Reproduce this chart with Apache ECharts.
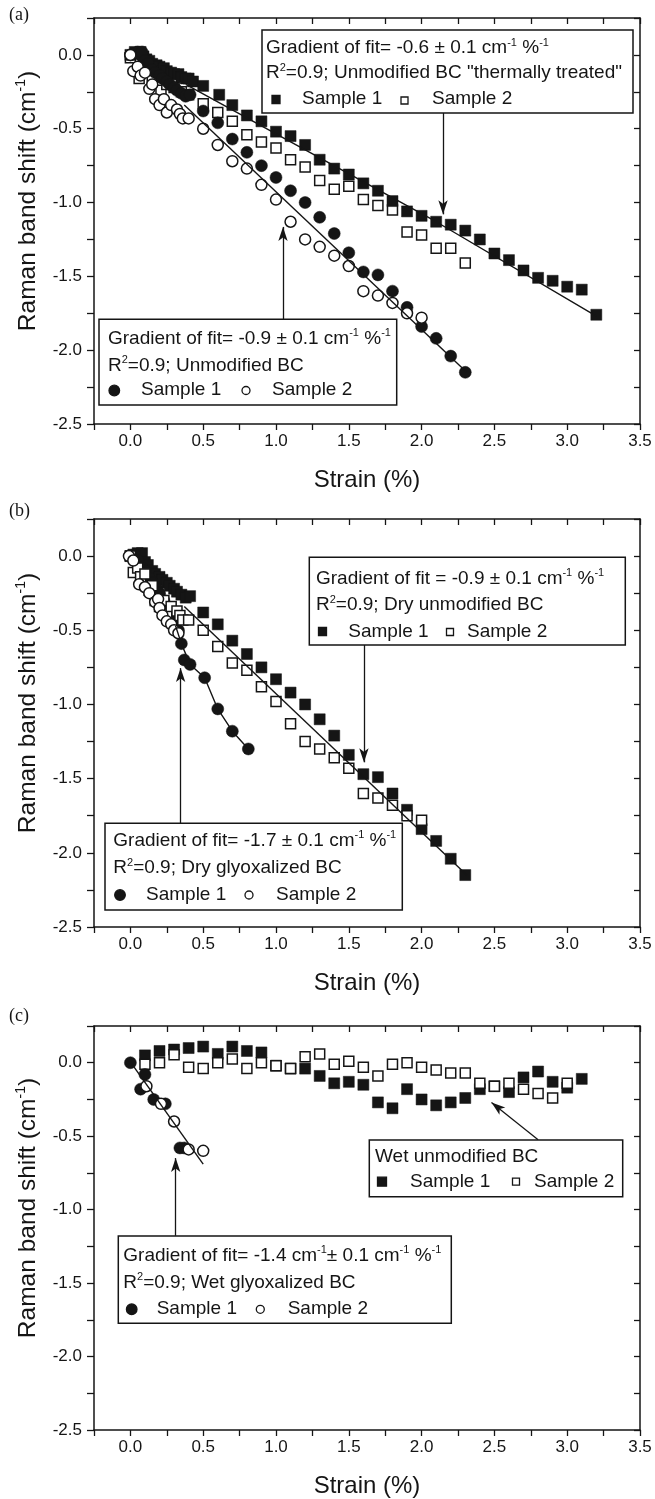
<!DOCTYPE html>
<html><head><meta charset="utf-8">
<script src="https://cdn.jsdelivr.net/npm/echarts@6/dist/echarts.min.js"></script>
<style>html,body{margin:0;padding:0;background:#fff}#c{width:655px;height:1499px}</style>
</head><body><div id="c"></div>
<script>
// ---------- data ----------
const xLabelValues = [0, 0.5, 1, 1.5, 2, 2.5, 3, 3.5];
const yLabelValues = [0, -0.5, -1, -1.5, -2, -2.5];
const xTitle = 'Strain (%)';
const yTitle = 'Raman band shift (cm{s|-1})';

// (a) Unmodified BC "thermally treated"
const thermS1 = [[0,0],[0.03,0.02],[0.05,0.01],[0.07,0.02],[0.09,-0.01],[0.11,-0.03],[0.13,-0.04],[0.15,-0.06],[0.18,-0.07],[0.2,-0.08],[0.23,-0.09],[0.25,-0.11],[0.28,-0.12],[0.3,-0.13],[0.33,-0.13],[0.35,-0.15],[0.38,-0.16],[0.4,-0.16],[0.43,-0.18],
 [0.5,-0.21],[0.61,-0.27],[0.7,-0.34],[0.8,-0.41],[0.9,-0.45],[1.0,-0.52],[1.1,-0.55],[1.2,-0.61],[1.3,-0.71],[1.4,-0.77],[1.5,-0.81],[1.6,-0.87],[1.7,-0.92],[1.8,-0.99],[1.9,-1.06],[2.0,-1.09],[2.1,-1.13],[2.2,-1.15],[2.3,-1.19],[2.4,-1.25],[2.5,-1.345],[2.6,-1.39],[2.7,-1.46],[2.8,-1.51],[2.9,-1.53],[3.0,-1.57],[3.1,-1.59],[3.2,-1.76]];
const thermS2 = [[0,-0.02],[0.06,-0.16],[0.1,-0.1],[0.15,-0.15],[0.21,-0.24],[0.25,-0.2],[0.3,-0.22],[0.35,-0.25],[0.4,-0.27],[0.5,-0.33],[0.6,-0.39],[0.7,-0.45],[0.8,-0.54],[0.9,-0.59],[1.0,-0.63],[1.1,-0.71],[1.2,-0.76],[1.3,-0.85],[1.4,-0.91],[1.5,-0.89],[1.6,-0.98],[1.7,-1.02],[1.8,-1.05],[1.9,-1.20],[2.0,-1.22],[2.1,-1.31],[2.2,-1.31],[2.3,-1.41]];
// (a) Unmodified BC  = (b) Dry unmodified BC
const unmodS1 = [[0,0],[0.02,0.01],[0.05,0.02],[0.07,0.0],[0.08,0.02],[0.1,-0.04],[0.12,-0.06],[0.15,-0.1],[0.17,-0.12],[0.2,-0.14],[0.22,-0.16],[0.25,-0.18],[0.27,-0.2],[0.3,-0.22],[0.32,-0.24],[0.35,-0.26],[0.38,-0.28],[0.41,-0.27],
 [0.5,-0.38],[0.6,-0.46],[0.7,-0.57],[0.8,-0.66],[0.9,-0.75],[1.0,-0.83],[1.1,-0.92],[1.2,-1.0],[1.3,-1.1],[1.4,-1.21],[1.5,-1.34],[1.6,-1.47],[1.7,-1.49],[1.8,-1.6],[1.9,-1.71],[2.0,-1.84],[2.1,-1.92],[2.2,-2.04],[2.3,-2.15]];
const unmodS2 = [[0,0],[0.02,-0.11],[0.05,-0.08],[0.07,-0.14],[0.1,-0.12],[0.13,-0.23],[0.15,-0.2],[0.17,-0.3],[0.2,-0.34],[0.23,-0.3],[0.25,-0.39],[0.28,-0.34],[0.32,-0.37],[0.34,-0.4],[0.36,-0.43],[0.4,-0.43],
 [0.5,-0.5],[0.6,-0.61],[0.7,-0.72],[0.8,-0.77],[0.9,-0.88],[1.0,-0.98],[1.1,-1.13],[1.2,-1.25],[1.3,-1.30],[1.4,-1.36],[1.5,-1.43],[1.6,-1.60],[1.7,-1.63],[1.8,-1.68],[1.9,-1.75],[2.0,-1.78]];
// (b) Dry glyoxalized BC
const glyDryS1 = [[0,0],[0.03,0.01],[0.05,-0.03],[0.08,-0.08],[0.1,-0.1],[0.13,-0.15],[0.15,-0.18],[0.18,-0.22],[0.2,-0.25],[0.23,-0.3],[0.25,-0.34],[0.28,-0.4],[0.3,-0.44],[0.33,-0.5],[0.35,-0.59],[0.37,-0.70],[0.41,-0.73],[0.51,-0.82],[0.6,-1.03],[0.7,-1.18],[0.81,-1.30]];
const glyDryS2 = [[-0.01,0.0],[0.02,-0.03],[0.06,-0.19],[0.1,-0.21],[0.13,-0.25],[0.17,-0.31],[0.19,-0.29],[0.2,-0.35],[0.22,-0.40],[0.25,-0.44],[0.28,-0.46],[0.3,-0.5],[0.33,-0.52]];
// (c) Wet unmodified BC
const wetS1 = [[0.1,0.05],[0.2,0.08],[0.3,0.09],[0.4,0.1],[0.5,0.11],[0.6,0.06],[0.7,0.11],[0.8,0.08],[0.9,0.07],[1.0,-0.02],[1.1,-0.04],[1.2,-0.04],[1.3,-0.09],[1.4,-0.14],[1.5,-0.13],[1.6,-0.15],[1.7,-0.27],[1.8,-0.31],[1.9,-0.18],[2.0,-0.25],[2.1,-0.29],[2.2,-0.27],[2.3,-0.24],[2.4,-0.18],[2.5,-0.16],[2.6,-0.2],[2.7,-0.10],[2.8,-0.06],[2.9,-0.13],[3.0,-0.17],[3.1,-0.11]];
const wetS2 = [[0.1,-0.01],[0.2,0.0],[0.3,0.055],[0.4,-0.03],[0.5,-0.04],[0.6,0.0],[0.7,0.025],[0.8,-0.04],[0.9,0.0],[1.0,-0.02],[1.1,-0.04],[1.2,0.04],[1.3,0.06],[1.4,-0.01],[1.5,0.01],[1.6,-0.03],[1.7,-0.09],[1.8,-0.01],[1.9,0.0],[2.0,-0.03],[2.1,-0.05],[2.2,-0.07],[2.3,-0.07],[2.4,-0.14],[2.5,-0.16],[2.6,-0.14],[2.7,-0.18],[2.8,-0.21],[2.9,-0.24],[3.0,-0.14]];
// (c) Wet glyoxalized BC
const glyWetS1 = [[0,0],[0.07,-0.18],[0.1,-0.08],[0.16,-0.25],[0.24,-0.28],[0.34,-0.58],[0.37,-0.58]];
const glyWetS2 = [[0.11,-0.16],[0.21,-0.28],[0.3,-0.40],[0.4,-0.59],[0.5,-0.60]];

// fit lines
const fitThermal = [[0.38,-0.20],[2.1,-1.13],[3.2,-1.77]];
const fitUnmod = [[0.37,-0.34],[2.31,-2.15]];
const fitGlyDry = [[0.31,-0.47],[0.35,-0.59],[0.41,-0.73],[0.51,-0.82],[0.6,-1.03],[0.7,-1.18],[0.81,-1.30]];
const fitGlyWet = [[-0.01,0.02],[0.5,-0.69]];

// annotation arrows [from, to]
const arrowA1 = [[2.147,-0.389],[2.147,-1.08]];
const arrowA2 = [[1.048,-1.789],[1.048,-1.165]];
const arrowB1 = [[1.604,-0.598],[1.604,-1.39]];
const arrowB2 = [[0.345,-1.80],[0.345,-0.755]];
const arrowC1 = [[2.80,-0.525],[2.48,-0.27]];
const arrowC2 = [[0.311,-1.178],[0.311,-0.649]];

// ---------- chart ----------
const F = '"Liberation Sans", Arial, Helvetica, sans-serif';
const FS = '"Liberation Serif", "Times New Roman", serif';
const AX = '#151515';
const grids = [
  {left:94, top:18, width:546, height:406},
  {left:94, top:519, width:546, height:408},
  {left:94, top:1026, width:546, height:404}
];
const isLabel = (arr, v) => arr.some(t => Math.abs(t - v) < 1e-6);

const xAxis = [], yAxis = [];
grids.forEach((g, gi) => {
  const bx = {type:'value', gridIndex:gi, min:-0.25, max:3.5, interval:0.25, splitLine:{show:false},
    axisLine:{show:true, onZero:false, lineStyle:{color:AX, width:1.5}}};
  xAxis.push(Object.assign({}, bx, {position:'bottom',
    axisTick:{show:true, inside:false, length:6, lineStyle:{color:AX, width:1.3}},
    axisLabel:{show:true, margin:9, fontSize:17, fontFamily:F, color:AX,
      formatter: v => isLabel(xLabelValues, v) ? (Math.abs(v) < 1e-9 ? 0 : v).toFixed(1) : ''},
    name:xTitle, nameLocation:'middle', nameGap:44,
    nameTextStyle:{fontSize:24, fontFamily:F, color:AX}}));
  xAxis.push(Object.assign({}, bx, {position:'top',
    axisTick:{show:true, inside:true, length:6, lineStyle:{color:AX, width:1.3}},
    axisLabel:{show:false}}));
  const by = {type:'value', gridIndex:gi, min:-2.5, max:0.25, interval:0.25, splitLine:{show:false},
    axisLine:{show:true, onZero:false, lineStyle:{color:AX, width:1.5}}};
  yAxis.push(Object.assign({}, by, {position:'left',
    axisTick:{show:true, inside:false, length:7, lineStyle:{color:AX, width:1.3}},
    axisLabel:{show:true, margin:12, fontSize:17, fontFamily:F, color:AX,
      formatter: v => isLabel(yLabelValues, v) ? (Math.abs(v) < 1e-9 ? 0 : v).toFixed(1) : ''},
    name:yTitle, nameLocation:'middle', nameGap:51,
    nameTextStyle:{fontSize:24.5, fontFamily:F, color:AX, lineHeight:28, padding:[0, 0, 0, 40],
      rich:{s:{fontSize:14, fontFamily:F, color:AX, verticalAlign:'top', lineHeight:13}}}}));
  yAxis.push(Object.assign({}, by, {position:'right',
    axisTick:{show:true, inside:true, length:6, lineStyle:{color:AX, width:1.3}},
    axisLabel:{show:false}}));
});

function sc(gi, data, sym, filled, size) {
  return {type:'scatter', xAxisIndex:2*gi, yAxisIndex:2*gi, data, symbol:sym, symbolSize:size,
    itemStyle: filled ? {color:AX, borderColor:AX, borderWidth:0.5, opacity:1}
                      : {color:'#fff', borderColor:AX, borderWidth:1.5, opacity:1},
    emphasis:{disabled:true}, silent:true, z:2};
}
function arrowML(list) {
  return {silent:true, symbol:['none','arrow'], symbolSize:[7,14], label:{show:false},
    lineStyle:{color:AX, width:1.3, type:'solid', opacity:1}, emphasis:{disabled:true}, animation:false,
    data: list.map(a => [{coord:a[0]}, {coord:a[1]}])};
}
function fit(gi, data, arrows) {
  return {type:'line', xAxisIndex:2*gi, yAxisIndex:2*gi, data, showSymbol:false, symbol:'none',
    lineStyle:{color:AX, width:1.4}, silent:true, z:3, markLine: arrowML(arrows)};
}

const series = [
  sc(0, thermS2, 'rect', false, 10),
  sc(0, thermS1, 'rect', true, 11),
  sc(0, unmodS1, 'circle', true, 12),
  sc(0, unmodS2, 'circle', false, 11),
  fit(0, fitThermal, [arrowA1]),
  fit(0, fitUnmod, [arrowA2]),
  sc(1, unmodS1, 'rect', true, 11),
  sc(1, glyDryS1, 'circle', true, 12),
  sc(1, unmodS2, 'rect', false, 10),
  sc(1, glyDryS2, 'circle', false, 11),
  fit(1, fitUnmod, [arrowB1]),
  fit(1, fitGlyDry, [arrowB2]),
  sc(2, wetS1, 'rect', true, 11),
  sc(2, wetS2, 'rect', false, 10),
  sc(2, glyWetS1, 'circle', true, 12),
  sc(2, glyWetS2, 'circle', false, 11),
  fit(2, fitGlyWet, [arrowC1, arrowC2])
];

// ---------- annotation boxes ----------
const RICH = {s:{fontSize:11, fontFamily:F, fill:AX, verticalAlign:'top', lineHeight:10}};
function box(x, y, w, h) {
  return {type:'rect', shape:{x, y, width:w, height:h}, style:{fill:'#fff', stroke:AX, lineWidth:1.5}, z:100};
}
function txt(x, y, t) {
  return {type:'text', x, y, style:{text:t, fontSize:19, fontFamily:F, fill:AX, lineHeight:22,
    verticalAlign:'middle', align:'left', rich:RICH}, z:101};
}
function sq(cx, cy, s, filled) {
  return {type:'rect', shape:{x:cx - s/2, y:cy - s/2, width:s, height:s},
    style:{fill: filled ? AX : '#fff', stroke:AX, lineWidth:1.3}, z:101};
}
function ci(cx, cy, r, filled) {
  return {type:'circle', shape:{cx, cy, r}, style:{fill: filled ? AX : '#fff', stroke:AX, lineWidth:1.3}, z:101};
}
function panelLabel(x, y, t) {
  return {type:'text', x, y, style:{text:t, fontSize:18, fontFamily:FS, fill:AX, verticalAlign:'middle', align:'left'}, z:101};
}

const graphic = [
  panelLabel(9, 15, '(a)'), panelLabel(9, 511, '(b)'), panelLabel(9, 1016, '(c)'),
  // (a) upper
  box(262, 30, 371, 83),
  txt(266, 48, 'Gradient of fit= -0.6 \u00b1 0.1 cm{s|-1} %{s|-1}'),
  txt(266, 73, 'R{s|2}=0.9; Unmodified BC "thermally treated"'),
  sq(276, 99.5, 8, true), txt(302, 99, 'Sample 1'),
  sq(404.5, 100.5, 7, false), txt(432, 99, 'Sample 2'),
  // (a) lower
  box(99, 319.3, 297.7, 85.7),
  txt(108, 338.5, 'Gradient of fit= -0.9 \u00b1 0.1 cm{s|-1} %{s|-1}'),
  txt(108, 365.5, 'R{s|2}=0.9; Unmodified BC'),
  ci(114.3, 390.5, 5.3, true), txt(141, 390, 'Sample 1'),
  ci(246, 390.5, 4, false), txt(272, 390, 'Sample 2'),
  // (b) upper
  box(309.3, 557.3, 316, 87.7),
  txt(316, 578.5, 'Gradient of fit = -0.9 \u00b1 0.1 cm{s|-1} %{s|-1}'),
  txt(316, 605, 'R{s|2}=0.9; Dry unmodified BC'),
  sq(322.5, 631.5, 8, true), txt(348.3, 631.5, 'Sample 1'),
  sq(450, 632, 7, false), txt(467, 631.5, 'Sample 2'),
  // (b) lower
  box(105, 823.3, 297.3, 86.7),
  txt(113.3, 840.5, 'Gradient of fit= -1.7 \u00b1 0.1 cm{s|-1} %{s|-1}'),
  txt(113.3, 868, 'R{s|2}=0.9; Dry glyoxalized BC'),
  ci(120, 895, 5.3, true), txt(146, 895, 'Sample 1'),
  ci(249, 895, 4, false), txt(276, 895, 'Sample 2'),
  // (c) right
  box(369.3, 1140, 253.4, 56.7),
  txt(375, 1157, 'Wet unmodified BC'),
  sq(382, 1181.7, 9, true), txt(410, 1181.5, 'Sample 1'),
  sq(516, 1181.7, 7, false), txt(534, 1181.5, 'Sample 2'),
  // (c) lower
  box(118.3, 1236, 333, 87.3),
  txt(123.3, 1255.5, 'Gradient of fit= -1.4 cm{s|-1}\u00b1 0.1 cm{s|-1} %{s|-1}'),
  txt(123.3, 1282.7, 'R{s|2}=0.9; Wet glyoxalized BC'),
  ci(131.7, 1309.3, 5.3, true), txt(156.7, 1309, 'Sample 1'),
  ci(260.3, 1309.3, 4, false), txt(287.7, 1309, 'Sample 2')
];

const chart = echarts.init(document.getElementById('c'), null, {renderer:'canvas'});
chart.setOption({
  animation:false,
  backgroundColor:'#fff',
  grid: grids,
  xAxis, yAxis, series, graphic
});
</script>
</body></html>
